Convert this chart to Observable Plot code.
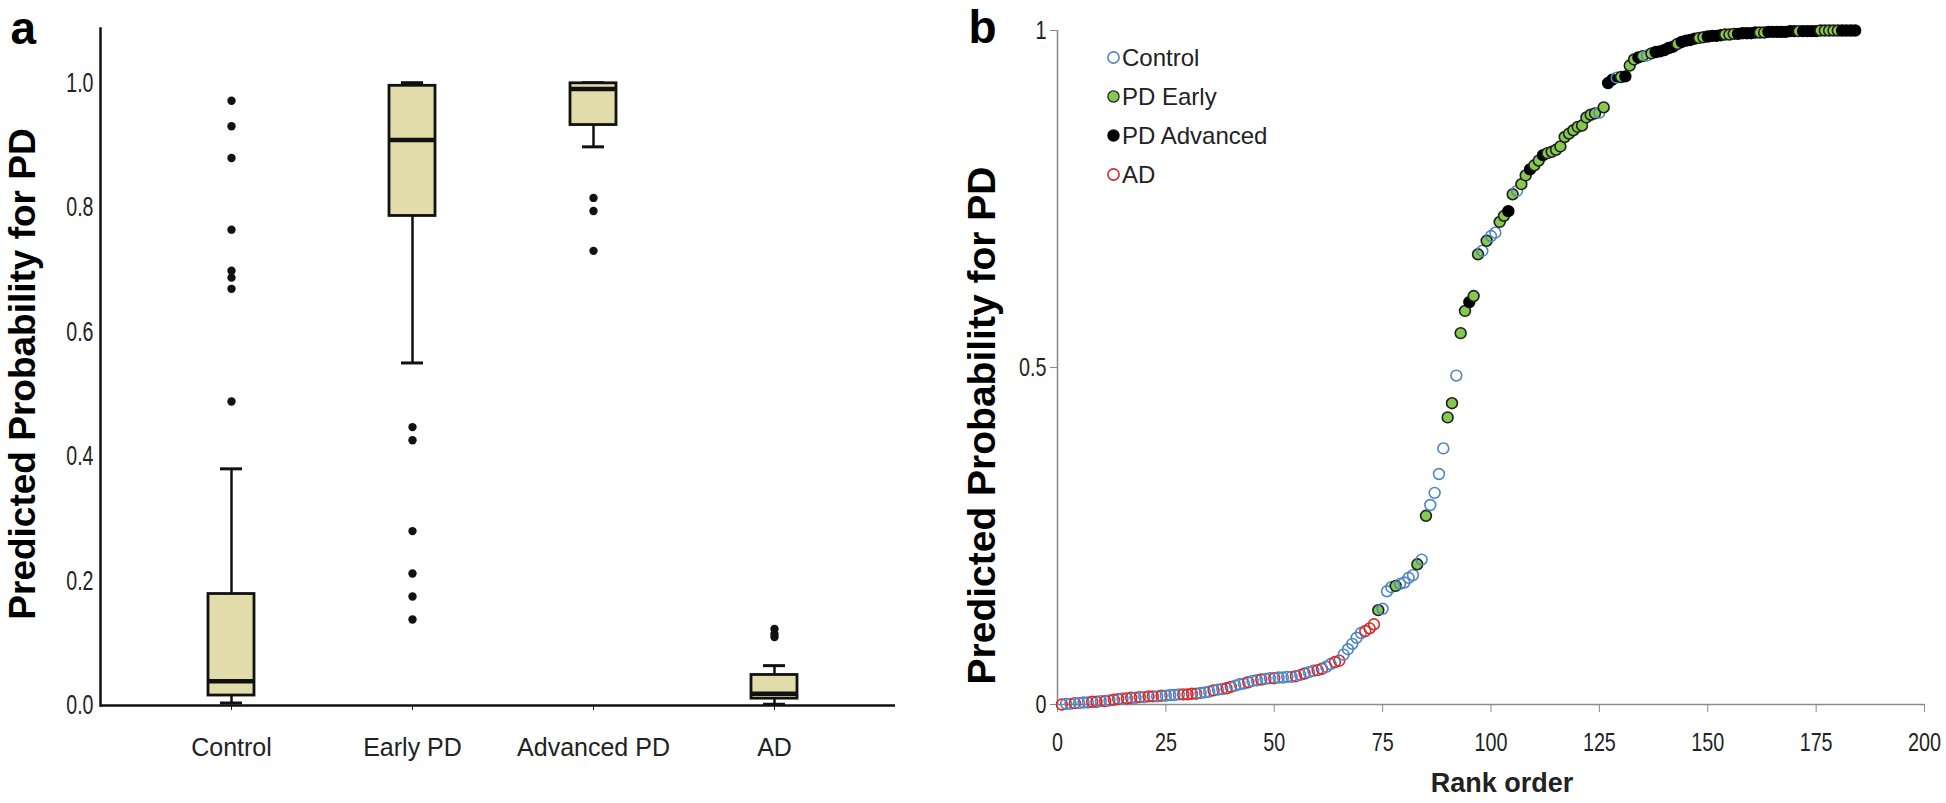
<!DOCTYPE html>
<html><head><meta charset="utf-8">
<script src="https://cdn.jsdelivr.net/npm/d3@7"></script>
<script src="https://cdn.jsdelivr.net/npm/@observablehq/plot@0.6"></script>
<style>
html,body{margin:0;padding:0;background:#fff;}
#wrap{position:relative;width:1946px;height:803px;overflow:hidden;background:#fff;}
#pa{position:absolute;left:0;top:0;}
#pb{position:absolute;left:960px;top:0;}
#legend{position:absolute;left:1106px;top:38px;font-family:'Liberation Sans',Arial,sans-serif;font-size:24px;color:#222;}
#legend .row{height:39px;display:flex;align-items:center;}
#legend svg{margin-right:1px;}
</style></head><body>
<div id="wrap"><div id="pa"></div><div id="pb"></div><div id="legend"></div></div>
<script>
const SANS = "'Liberation Sans',Arial,sans-serif";

// ---------- Panel a: box plot ----------
const groupsA = ["Control", "Early PD", "Advanced PD", "AD"];
const q1 = [0.016, 0.786, 0.932, 0.011];
const median = [0.039, 0.908, 0.990, 0.019];
const q3 = [0.179, 0.995, 0.999, 0.049];
const whiskerLow = [0.004, 0.550, 0.897, 0.002];
const whiskerHigh = [0.380, 1.000, 1.000, 0.064];
const outlierValues = [
  [0.971, 0.930, 0.879, 0.764, 0.698, 0.687, 0.669, 0.488],
  [0.447, 0.426, 0.280, 0.212, 0.175, 0.138],
  [0.815, 0.794, 0.730],
  [0.123, 0.115, 0.110]
];
const yTicksA = [0, 0.2, 0.4, 0.6, 0.8, 1.0];
const titleY = "Predicted Probability for PD";

// ---------- Panel b: ranked scatter ----------
const groupNames = {B: "Control", G: "PD Early", K: "PD Advanced", R: "AD"};
const legendOrder = ["Control", "PD Early", "PD Advanced", "AD"];
const rankCodes = (
  "RBBRBBBRRB" + "RBRRBRRBRB" + "RRBRBBBBRR" + "RRBBBRBBRR" + "BBBRBBRBBR" +
  "BBBBRBRBBR" + "RBBRRBBBBB" + "RRRGBBBGBB" + "BBGBGBBBBG" + "GBGGKGGBGB" +
  "BGGKGBGGKG" + "GKGGGGGGGG" + "GGGGBGKKBG" + "KGGKGBGKKK" + "KKGKKKKGGK" +
  "KKKGGGKKKK" + "KGGKKKKKKK" + "GKKKKGGGGG" + "KKKK").split("");
const rankValues = [
  0.000,0.001,0.001,0.002,0.002,0.003,0.003,0.004,0.004,0.005,
  0.005,0.006,0.007,0.008,0.009,0.009,0.010,0.010,0.011,0.011,
  0.012,0.012,0.012,0.013,0.013,0.014,0.014,0.015,0.015,0.015,
  0.016,0.016,0.017,0.018,0.019,0.021,0.022,0.023,0.024,0.026,
  0.028,0.030,0.031,0.033,0.035,0.036,0.037,0.038,0.039,0.039,
  0.040,0.040,0.041,0.041,0.042,0.044,0.046,0.048,0.050,0.051,
  0.053,0.056,0.060,0.063,0.065,0.074,0.082,0.090,0.099,0.106,
  0.109,0.113,0.119,0.140,0.142,0.168,0.174,0.176,0.179,0.181,
  0.188,0.192,0.208,0.215,0.280,0.296,0.314,0.342,0.380,0.426,
  0.447,0.488,0.551,0.584,0.597,0.606,0.668,0.673,0.688,0.695,
  0.700,0.716,0.725,0.732,0.757,0.762,0.772,0.785,0.794,0.800,
  0.807,0.815,0.818,0.820,0.823,0.828,0.842,0.847,0.852,0.857,
  0.859,0.871,0.875,0.877,0.878,0.886,0.922,0.927,0.930,0.931,
  0.932,0.948,0.957,0.960,0.962,0.963,0.966,0.968,0.969,0.971,
  0.974,0.976,0.980,0.983,0.985,0.986,0.988,0.989,0.990,0.991,
  0.992,0.992,0.993,0.994,0.994,0.995,0.995,0.996,0.996,0.996,
  0.997,0.997,0.997,0.998,0.998,0.998,0.998,0.998,0.999,0.999,
  0.999,0.999,0.999,0.999,0.999,1.000,1.000,1.000,1.000,1.000,
  1.000,1.000,1.000,1.000
];
const xTicksB = [0, 25, 50, 75, 100, 125, 150, 175, 200];
const yTicksB = [0, 0.5, 1];
const fillOf = {"Control": "none", "PD Early": "#86c94e", "PD Advanced": "#000000", "AD": "none"};
const strokeOf = {"Control": "#4f86c6", "PD Early": "#1e1e1e", "PD Advanced": "#000000", "AD": "#d62a2a"};

// squeeze tick labels horizontally to mimic the condensed face of the original
function condense(svg, selector, sx) {
  d3.select(svg).selectAll(selector).each(function () {
    const t = this.getAttribute("transform") || "";
    this.setAttribute("transform", t + ` scale(${sx},1)`);
  });
}

// ---------- build panel a ----------
const boxes = groupsA.map((g, i) => ({group: g, q1: q1[i], median: median[i], q3: q3[i], lo: whiskerLow[i], hi: whiskerHigh[i]}));
const outliers = groupsA.flatMap((g, i) => outlierValues[i].map(v => ({group: g, value: v})));

const plotA = Plot.plot({
  width: 960, height: 803,
  marginLeft: 100, marginRight: 65, marginTop: 28, marginBottom: 98,
  style: {fontFamily: SANS, fontSize: "24px", color: "#222", background: "white", overflow: "visible"},
  x: {type: "band", domain: groupsA, paddingInner: 0.747, paddingOuter: 0.3735, insetLeft: 39, insetRight: 29, label: null},
  y: {domain: [0, 1.087], label: null},
  marks: [
    Plot.ruleX(boxes, {x: "group", y1: "lo", y2: "hi", stroke: "#111", strokeWidth: 2.5}),
    Plot.tickY(boxes, {x: "group", y: "lo", stroke: "#111", strokeWidth: 3, insetLeft: 12, insetRight: 12}),
    Plot.tickY(boxes, {x: "group", y: "hi", stroke: "#111", strokeWidth: 3, insetLeft: 12, insetRight: 12}),
    Plot.barY(boxes, {x: "group", y1: "q1", y2: "q3", fill: "#e1dca9", stroke: "#111", strokeWidth: 2.8}),
    Plot.tickY(boxes, {x: "group", y: "median", stroke: "#111", strokeWidth: 4.5}),
    Plot.dot(outliers, {x: "group", y: "value", r: 4.2, fill: "#111"}),
    Plot.ruleY([0], {stroke: "#111", strokeWidth: 2.5}),
    Plot.frame({anchor: "left", stroke: "#111", strokeWidth: 2.5}),
    Plot.axisY({ticks: yTicksA, tickFormat: ".1f", tickSize: 0, tickPadding: 7, fontSize: 28}),
    Plot.axisX({tickSize: 5, tickPadding: 28, fontSize: 25, stroke: "#111"}),
    Plot.text([titleY], {frameAnchor: "left", textAnchor: "middle", rotate: -90, dx: -77, dy: 7, fontWeight: "bold", fontSize: 37, fill: "#000"}),
    Plot.text(["a"], {frameAnchor: "top-left", textAnchor: "start", lineAnchor: "top", dx: -90, dy: -17, fontWeight: "bold", fontSize: 46, fill: "#000"})
  ]
});
condense(plotA, "g[aria-label='y-axis tick label'] text", 0.7);
document.getElementById("pa").appendChild(plotA);

// ---------- build panel b ----------
const pts = rankValues.map((v, i) => ({rank: i + 1, value: v, group: groupNames[rankCodes[i]]}));

const plotB = Plot.plot({
  width: 986, height: 803,
  marginLeft: 97, marginRight: 22, marginTop: 30, marginBottom: 99,
  style: {fontFamily: SANS, fontSize: "24px", color: "#222", background: "white", overflow: "visible"},
  x: {domain: [0, 200], label: null},
  y: {domain: [0, 1], label: null},
  color: {type: "identity"},
  marks: [
    Plot.ruleY([0], {stroke: "#8a8a8a", strokeWidth: 1.6}),
    Plot.ruleX([0], {stroke: "#8a8a8a", strokeWidth: 1.6}),
    Plot.axisX({ticks: xTicksB, tickSize: 8, tickPadding: 20, stroke: "#8a8a8a", fontSize: 26}),
    Plot.axisY({ticks: yTicksB, tickSize: 7, tickPadding: 4, stroke: "#8a8a8a", tickFormat: d => String(d), fontSize: 26}),
    Plot.dot(pts, {x: "rank", y: "value", r: 5.4, fill: d => fillOf[d.group], stroke: d => strokeOf[d.group], strokeWidth: 1.6}),
    Plot.text([titleY], {frameAnchor: "left", textAnchor: "middle", rotate: -90, dx: -75, dy: 58, fontWeight: "bold", fontSize: 39, fill: "#000"}),
    Plot.text(["Rank order"], {frameAnchor: "bottom", dx: 11, dy: 87, fontWeight: "bold", fontSize: 27, fill: "#222"}),
    Plot.text(["b"], {frameAnchor: "top-left", textAnchor: "start", lineAnchor: "top", dx: -89, dy: -20, fontWeight: "bold", fontSize: 46, fill: "#000"})
  ]
});
condense(plotB, "g[aria-label$='tick label'] text", 0.76);
document.getElementById("pb").appendChild(plotB);

// ---------- legend ----------
const leg = document.getElementById("legend");
legendOrder.forEach(name => {
  const row = document.createElement("div");
  row.className = "row";
  const filled = fillOf[name] !== "none";
  row.innerHTML = `<svg width="15" height="15"><circle cx="7.5" cy="7.5" r="5.6" fill="${fillOf[name]}" stroke="${strokeOf[name]}" stroke-width="${filled ? 1.2 : 1.6}"></circle></svg><span>${name}</span>`;
  leg.appendChild(row);
});
</script>
</body></html>
